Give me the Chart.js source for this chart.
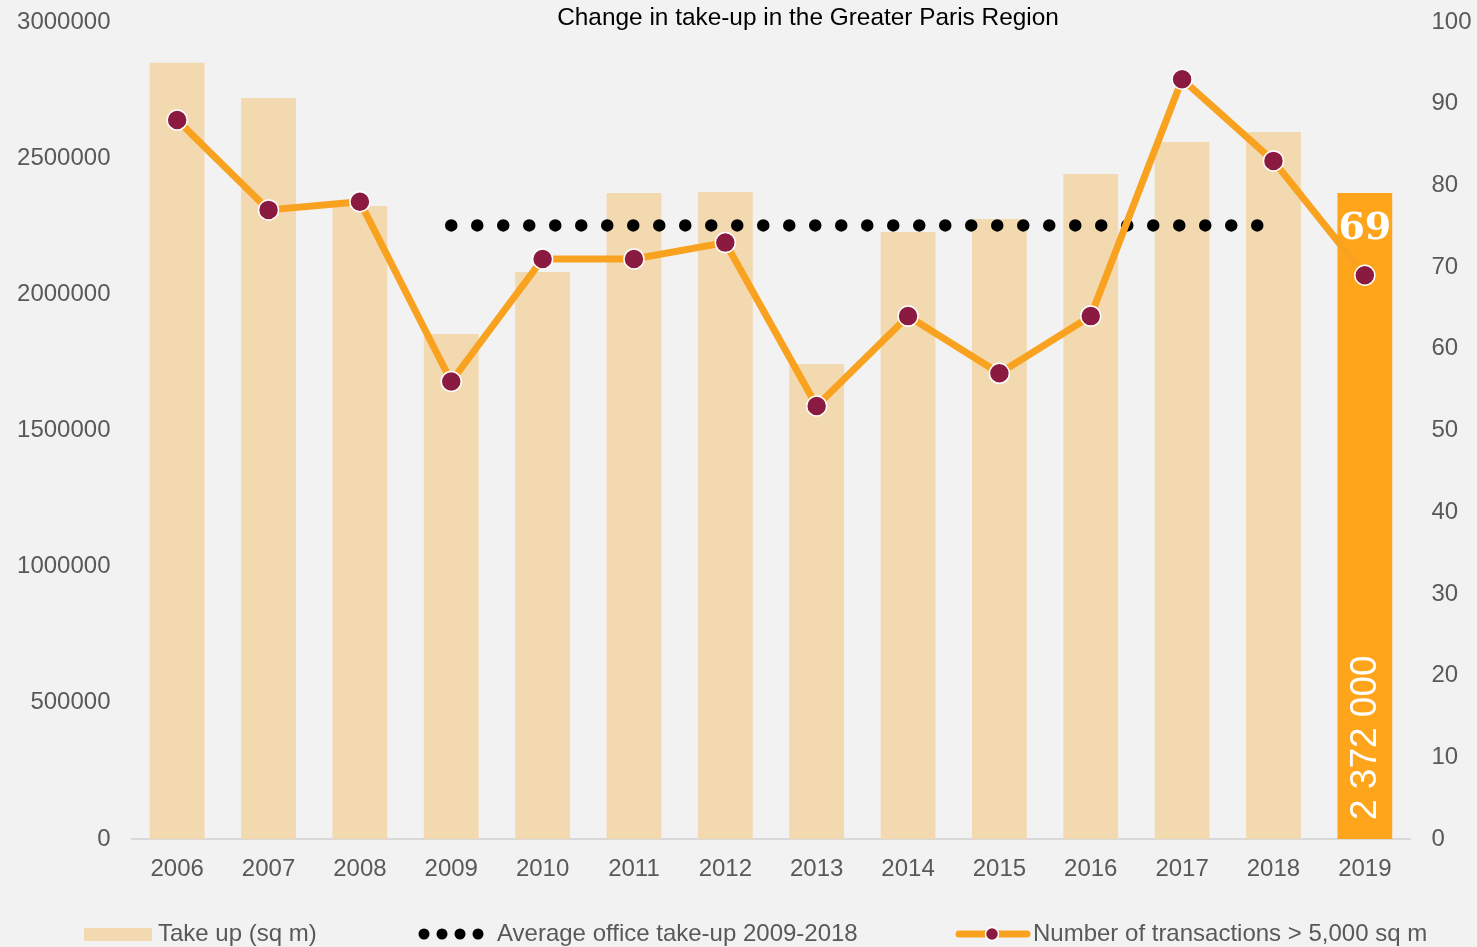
<!DOCTYPE html>
<html>
<head>
<meta charset="utf-8">
<script src="https://cdn.jsdelivr.net/npm/chart.js@4/dist/chart.umd.min.js"></script>
<style>
html,body{margin:0;padding:0;background:#f2f2f2;}
#wrap{width:1477px;height:947px;}
</style>
</head>
<body>
<div id="wrap"><canvas id="c" width="1477" height="947"></canvas></div>
<script>
const years = ['2006','2007','2008','2009','2010','2011','2012','2013','2014','2015','2016','2017','2018','2019'];
const takeUp = [2850000,2721000,2324000,1854000,2082000,2372000,2376000,1744000,2229000,2277000,2442000,2559000,2596000,2372000];
const averageTakeUp = [null,null,null,2253000,2253000,2253000,2253000,2253000,2253000,2253000,2253000,2253000,2253000,null];
const transactions = [88,77,78,56,71,71,73,53,64,57,64,93,83,69];
const leftTicks = [0,500000,1000000,1500000,2000000,2500000,3000000];
const rightTicks = [0,10,20,30,40,50,60,70,80,90,100];
const titleText = 'Change in take-up in the Greater Paris Region';
const legendLabels = ['Take up (sq m)','Average office take-up 2009-2018','Number of transactions > 5,000 sq m'];
const label2019Count = '69';
const label2019TakeUp = '2 372 000';

const FONT = "'Liberation Sans', Arial, sans-serif";
Chart.defaults.font.family = FONT;
Chart.defaults.color = '#595959';

const barLight = '#F3D9B0';
const barHighlight = '#FFA51C';
const lineColor = '#F9A21F';
const markerColor = '#8B1A40';

const barColors = takeUp.map((v,i)=> i === takeUp.length-1 ? barHighlight : barLight);

const overlay = {
  id:'overlay',
  beforeDraw(chart){
    const ctx = chart.ctx;
    ctx.save();
    ctx.fillStyle = '#f2f2f2';
    ctx.fillRect(0,0,chart.width,chart.height);
    ctx.restore();
  },
  afterDatasetsDraw(chart){
    const ctx = chart.ctx;
    const x = chart.scales.x;
    const yl = chart.scales.yL;
    const yr = chart.scales.yR;
    const last = years.length-1;
    const px = x.getPixelForValue(last);
    ctx.save();
    ctx.fillStyle = '#ffffff';
    ctx.font = "bold 38px 'DejaVu Serif', serif";
    ctx.textAlign = 'center';
    ctx.textBaseline = 'middle';
    ctx.fillText(label2019Count, px, yr.getPixelForValue(transactions[last]) - 46);
    ctx.translate(px, yl.getPixelForValue(0) - 19);
    ctx.rotate(-Math.PI/2);
    ctx.font = "37px " + FONT;
    ctx.textAlign = 'left';
    ctx.textBaseline = 'middle';
    ctx.fillText(label2019TakeUp, 0, 1);
    ctx.restore();
  },
  afterDraw(chart){
    const ctx = chart.ctx;
    ctx.save();
    ctx.fillStyle = '#000000';
    ctx.font = "24.4px " + FONT;
    ctx.textAlign = 'center';
    ctx.textBaseline = 'middle';
    ctx.fillText(titleText, 808, 18);
    const ly = 934;
    ctx.fillStyle = barLight;
    ctx.fillRect(84, 928, 68, 13);
    ctx.fillStyle = '#000000';
    [424,442,460,478].forEach(cx=>{
      ctx.beginPath(); ctx.arc(cx, ly, 5.5, 0, Math.PI*2); ctx.fill();
    });
    ctx.strokeStyle = lineColor;
    ctx.lineWidth = 7;
    ctx.lineCap = 'round';
    ctx.beginPath(); ctx.moveTo(959, ly); ctx.lineTo(1027, ly); ctx.stroke();
    ctx.fillStyle = markerColor;
    ctx.strokeStyle = '#ffffff';
    ctx.lineWidth = 1.5;
    ctx.beginPath(); ctx.arc(992, ly, 6.5, 0, Math.PI*2); ctx.fill(); ctx.stroke();
    ctx.fillStyle = '#595959';
    ctx.font = "24px " + FONT;
    ctx.textAlign = 'left';
    ctx.textBaseline = 'middle';
    ctx.fillText(legendLabels[0], 158, ly);
    ctx.fillText(legendLabels[1], 497, ly);
    ctx.fillText(legendLabels[2], 1033, ly);
    ctx.restore();
  }
};

function fixY(width){
  return function(s){ s.width = width; s.paddingTop = 0; s.paddingBottom = 0; };
}

new Chart(document.getElementById('c'), {
  data: {
    labels: years,
    datasets: [
      {
        type:'line',
        label: legendLabels[2],
        data: transactions,
        yAxisID:'yR',
        borderColor: lineColor,
        borderWidth: 7,
        pointRadius: 10,
        pointHoverRadius: 10,
        pointBackgroundColor: markerColor,
        pointBorderColor: '#ffffff',
        pointBorderWidth: 1.5,
        tension: 0,
        order: 1
      },
      {
        type:'line',
        label: legendLabels[1],
        data: averageTakeUp,
        yAxisID:'yL',
        borderColor: '#000000',
        borderWidth: 12.5,
        borderDash: [0, 26],
        borderCapStyle: 'round',
        pointRadius: 0,
        pointHoverRadius: 0,
        fill: false,
        spanGaps: false,
        order: 2
      },
      {
        type:'bar',
        label: legendLabels[0],
        data: takeUp,
        yAxisID:'yL',
        backgroundColor: barColors,
        borderWidth: 0,
        barPercentage: 0.6,
        categoryPercentage: 1.0,
        order: 3
      }
    ]
  },
  options: {
    responsive: false,
    animation: false,
    layout: { padding: { top: 22, bottom: 0, left: 0, right: 0 } },
    plugins: { legend: { display:false }, title: { display:false }, tooltip: { enabled:false } },
    scales: {
      x: {
        grid: { display:false, drawTicks:false },
        border: { display:true, color:'#d9d9d9', width:2 },
        ticks: { font:{ size:24 }, color:'#595959', padding: 16, maxRotation:0 },
        afterFit(s){ s.height = 108; s.paddingLeft = 0; s.paddingRight = 0; }
      },
      yL: {
        position:'left',
        min:0, max:3000000,
        grid: { display:false, drawTicks:false },
        border: { display:false },
        afterBuildTicks(s){ s.ticks = leftTicks.map(v=>({value:v})); },
        ticks: { font:{ size:24 }, color:'#595959', padding: 21, callback:(v)=>String(v) },
        afterFit: fixY(131.5)
      },
      yR: {
        position:'right',
        min:0, max:100,
        grid: { display:false, drawTicks:false },
        border: { display:false },
        afterBuildTicks(s){ s.ticks = rightTicks.map(v=>({value:v})); },
        ticks: { font:{ size:24 }, color:'#595959', padding: 21, callback:(v)=>String(v) },
        afterFit: fixY(66.5)
      }
    }
  },
  plugins: [overlay]
});
</script>
</body>
</html>
